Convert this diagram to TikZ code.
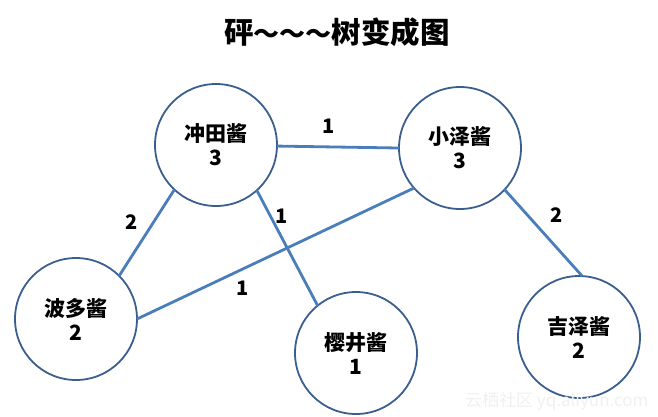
\documentclass[tikz,border=0pt]{standalone}
\usepackage{fontspec}
\newfontfamily\cjk{Noto Sans CJK SC}
\definecolor{edgeblue}{HTML}{4A7EBB}
\definecolor{ringblue}{HTML}{3A5F8F}
\begin{document}
\begin{tikzpicture}[x=1pt,y=-1pt,
  person/.style={circle,draw=ringblue,line width=1.8pt,fill=white,minimum size=122pt,inner sep=0pt,outer sep=0pt,
    align=center,font=\cjk\bfseries\fontsize{21}{24}\selectfont},
  link/.style={draw=edgeblue,line width=2.8pt},
  wt/.style={font=\cjk\bfseries\fontsize{20}{22}\selectfont,inner sep=0pt}]
\useasboundingbox (0,0) rectangle (658,416);
\node[font=\cjk\bfseries\fontsize{29.5}{34}\selectfont] (title) at (337,32) {砰{\fontsize{26}{30}\selectfont～～～}树变成图};

\node[person] (okita) at (216,145) {冲田酱\\3};
\node[person] (ozawa) at (460,148) {小泽酱\\3};
\node[person] (hatano) at (76,319) {波多酱\\2};
\node[person] (sakurai) at (356,353) {樱井酱\\1};
\node[person] (yoshi) at (579,337) {吉泽酱\\2};

\draw[link] (okita.-1) -- (ozawa.180);
\draw[link] (okita.227.5) -- (hatano.45);
\draw[link] (okita.312) -- (sakurai.129.5);
\draw[link] (ozawa.221) -- (hatano.0);
\draw[link] (ozawa.317) -- (yoshi.87);

\node[wt] (w1) at (329,126) {1};
\node[wt] (w2) at (132,222) {2};
\node[wt] (w3) at (282,216) {1};
\node[wt] (w4) at (243,288) {1};
\node[wt] (w5) at (557,215) {2};

\node[font=\cjk\fontsize{17}{18}\selectfont,text=black!6,anchor=east] (wm) at (652,401) {云栖社区 yq.aliyun.com};
\end{tikzpicture}
\end{document}
